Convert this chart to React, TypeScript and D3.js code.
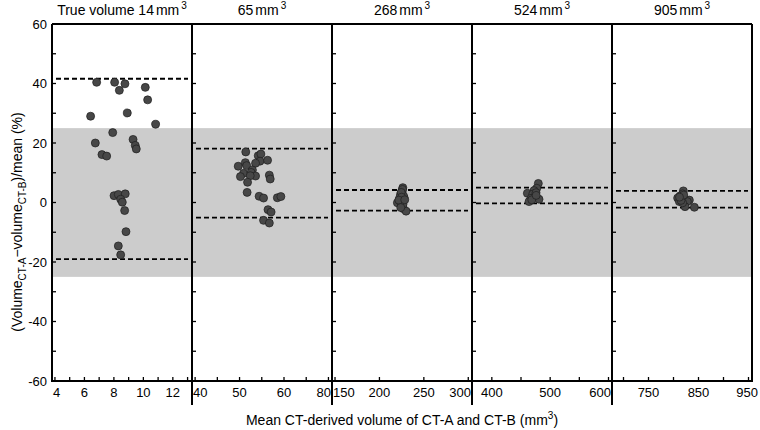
import React, { useEffect } from "react";
import * as d3 from "d3";

// ---------- data ----------
const panelTitles = ["True volume 14", "65", "268", "524", "905"];

const xDomains: [number, number][] = [
  [3.8, 13.3],
  [39.3, 70.8],
  [146.6, 304.2],
  [366, 606],
  [677, 957],
];

const xTickValues: number[][] = [
  [4, 5, 6, 7, 8, 9, 10, 11, 12, 13],
  [40, 45, 50, 55, 60, 65, 70],
  [150, 200, 250, 300],
  [400, 450, 500, 550, 600],
  [700, 750, 800, 850, 900, 950],
];

const xLabelValues: number[][] = [
  [4, 6, 8, 10, 12],
  [40, 50, 60, 70],
  [150, 200, 250, 300],
  [400, 500, 600],
  [750, 850, 950],
];

const xLabelTexts: string[][] = [
  ["4", "6", "8", "10", "12"],
  ["40", "50", "60", "80"],
  ["150", "200", "250", "300"],
  ["400", "500", "600"],
  ["750", "850", "950"],
];

const yTickValues = [-60, -50, -40, -30, -20, -10, 0, 10, 20, 30, 40, 50, 60];
const yLabelValues = [-60, -40, -20, 0, 20, 40, 60];

const upperLoA = [41.6, 18.1, 4.2, 5.0, 3.9];
const lowerLoA = [-19.0, -5.1, -2.75, -0.27, -1.7];
const bandLimits = [-25, 25];

const p1x = [6.83, 8.05, 8.75, 8.37, 10.13, 10.29, 6.42, 8.91, 10.83, 7.92, 9.3, 9.45, 9.52, 6.74, 7.19, 7.51, 8.01, 8.3, 8.77, 8.46, 8.57, 8.73, 8.82, 8.3, 8.46];
const p1y = [40.4, 40.4, 39.9, 37.7, 38.7, 34.5, 29.0, 30.1, 26.3, 23.5, 21.2, 19.2, 18.0, 20.0, 16.1, 15.6, 2.3, 2.7, 2.9, 1.1, 0.1, -2.7, -9.8, -14.6, -17.6];

const p2x = [51.4, 54.2, 54.8, 54.6, 56.3, 53.6, 51.3, 49.7, 51.6, 52.9, 50.9, 52.6, 50.2, 53.6, 52.4, 56.7, 56.9, 51.8, 51.7, 54.4, 55.4, 58.5, 59.3, 56.4, 57.1, 55.4, 56.7];
const p2y = [17.0, 15.7, 16.3, 13.9, 14.2, 13.2, 13.4, 12.2, 12.4, 10.9, 9.8, 10.1, 8.7, 8.9, 9.0, 9.2, 7.9, 6.8, 3.4, 2.1, 1.5, 1.6, 2.0, -2.4, -3.2, -6.0, -6.9];

const p3x = [226.3, 225.5, 224.0, 227.8, 222.5, 225.2, 220.2, 224.7, 227.0, 230.0, 227.0, 223.3, 226.0, 224.5, 223.0, 226.5, 225.0, 221.8, 228.5, 224.0];
const p3y = [5.0, 3.9, 2.9, 1.6, 1.1, 0.3, -0.1, -1.2, -2.1, -2.9, 2.3, 2.0, 4.4, 3.4, 0.6, -0.6, 1.8, 0.8, 0.9, -1.7];

const p4x = [479.7, 477.0, 472.3, 460.9, 470.1, 474.0, 467.2, 480.9, 463.8, 475.8, 468.5, 476.0];
const p4y = [6.4, 4.8, 4.0, 3.1, 2.8, 2.0, 1.4, 1.1, 0.3, 3.3, 0.9, 2.4];

const p5x = [819.7, 818.3, 813.0, 808.3, 821.0, 816.3, 811.7, 831.7, 827.7, 823.0, 841.7, 818.3, 815.0, 820.5, 812.0];
const p5y = [3.9, 2.9, 2.2, 1.5, 1.4, 1.1, 0.3, 0.8, 0.3, -1.4, -1.6, -0.1, 0.7, 2.5, 1.8];

const pointsX = [p1x, p2x, p3x, p4x, p5x];
const pointsY = [p1y, p2y, p3y, p4y, p5y];

// ---------- layout ----------
const W = 760;
const H = 430;
const plotLeft = 52;
const plotTop = 24;
const plotBottom = 381;
const panelW = 140;
const nPanels = panelTitles.length;
const plotRight = plotLeft + panelW * nPanels;
const font = "'Liberation Sans', Arial, Helvetica, sans-serif";
const tickFs = 13;

const yScale = d3.scaleLinear().domain([-60, 60]).range([plotBottom, plotTop]);

export default function App() {
  useEffect(() => {
    document.body.style.margin = "0";
  }, []);

  const panels = panelTitles.map((title, i) => {
    const x0 = plotLeft + i * panelW;
    const x1 = x0 + panelW;
    const xs = d3.scaleLinear().domain(xDomains[i]).range([x0, x1]);
    const rightBound = i === nPanels - 1 ? W - 2 : x1 - 1;
    return (
      <g key={i}>
        {/* limits of agreement */}
        {[upperLoA[i], lowerLoA[i]].map((v, k) => (
          <line
            key={k}
            x1={x0 + 4}
            x2={x1 - 4}
            y1={yScale(v)}
            y2={yScale(v)}
            stroke="#000"
            strokeWidth={1.8}
            strokeDasharray="5,3"
          />
        ))}
        {/* points */}
        {pointsX[i].map((vx, k) => (
          <circle
            key={k}
            cx={xs(vx)}
            cy={yScale(pointsY[i][k])}
            r={4}
            fill="#474747"
            stroke="#1e1e1e"
            strokeWidth={0.7}
          />
        ))}
        {/* x ticks */}
        {xTickValues[i].map((v) => (
          <line key={"t" + v} x1={xs(v)} x2={xs(v)} y1={plotBottom} y2={plotBottom - 4} stroke="#000" strokeWidth={1.3} />
        ))}
        {xLabelValues[i].map((v, k) => {
          const txt = xLabelTexts[i][k];
          const hw = txt.length * 0.556 * tickFs * 0.5;
          const cx = Math.max(x0 + hw + 1, Math.min(rightBound - hw, xs(v)));
          return (
            <text key={"l" + v} x={cx} y={plotBottom + 16} textAnchor="middle" fontSize={tickFs} fontFamily={font} fill="#000">
              {txt}
            </text>
          );
        })}
        {/* y ticks on each panel's left axis */}
        {yTickValues.map((v) => (
          <line key={"y" + v} x1={x0} x2={x0 + 4} y1={yScale(v)} y2={yScale(v)} stroke="#000" strokeWidth={1.3} />
        ))}
        {/* title */}
        <text x={(x0 + x1) / 2} y={15} textAnchor="middle" fontSize={14} fontFamily={font} fill="#000">
          {title}
          <tspan dx={2}>mm</tspan>
          <tspan dy={-6} dx={2} fontSize={10}>3</tspan>
        </text>
        {/* divider / left axis */}
        <line
          x1={x0}
          x2={x0}
          y1={plotTop}
          y2={i === 0 ? plotBottom : plotBottom + 24}
          stroke="#000"
          strokeWidth={2}
        />
      </g>
    );
  });

  return (
    <svg width={W} height={H} style={{ display: "block", position: "absolute", left: 0, top: 0, background: "#fff" }}>
      <rect x={0} y={0} width={W} height={H} fill="#fff" />
      {/* reference band */}
      <rect
        x={plotLeft}
        width={plotRight - plotLeft}
        y={yScale(bandLimits[1])}
        height={yScale(bandLimits[0]) - yScale(bandLimits[1])}
        fill="#cccccc"
      />
      {panels}
      {/* frame */}
      <line x1={plotLeft} x2={plotRight} y1={plotTop} y2={plotTop} stroke="#000" strokeWidth={2} />
      <line x1={plotLeft - 1} x2={plotRight + 1} y1={plotBottom} y2={plotBottom} stroke="#000" strokeWidth={2} />
      <line x1={plotRight} x2={plotRight} y1={plotTop} y2={plotBottom} stroke="#000" strokeWidth={2} />
      {/* y tick labels */}
      {yLabelValues.map((v) => (
        <text key={v} x={plotLeft - 5} y={yScale(v) + 4.5} textAnchor="end" fontSize={tickFs} fontFamily={font} fill="#000">
          {v < 0 ? "-" + Math.abs(v) : String(v)}
        </text>
      ))}
      {/* y axis title */}
      <text
        transform={`translate(22, 222) rotate(-90)`}
        textAnchor="middle"
        fontSize={14}
        fontFamily={font}
        fill="#000"
      >
        (Volume
        <tspan dy={4} fontSize={10}>CT-A</tspan>
        <tspan dy={-4}>−volume</tspan>
        <tspan dy={4} fontSize={10}>CT-B</tspan>
        <tspan dy={-4}>)/mean (%)</tspan>
      </text>
      {/* x axis title */}
      <text x={402} y={425} textAnchor="middle" fontSize={14} fontFamily={font} fill="#000">
        Mean CT-derived volume of CT-A and CT-B (mm
        <tspan dy={-6} fontSize={10}>3</tspan>
        <tspan dy={6}>)</tspan>
      </text>
    </svg>
  );
}
